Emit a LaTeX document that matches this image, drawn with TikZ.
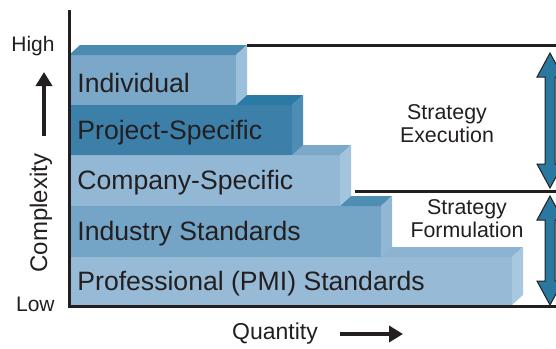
\documentclass[tikz,border=0pt]{standalone}
\usepackage{fontspec}
\setmainfont{Liberation Sans}
\usetikzlibrary{arrows.meta,positioning}
\definecolor{inf}{HTML}{7BA7C8}\definecolor{int}{HTML}{4B8BB2}\definecolor{ins}{HTML}{9CC0DB}
\definecolor{prf}{HTML}{3C80A9}\definecolor{prt}{HTML}{2A7BA3}\definecolor{prs}{HTML}{4D8DB5}
\definecolor{cof}{HTML}{93B8D5}\definecolor{cot}{HTML}{7CA8C9}\definecolor{cos}{HTML}{A2C4DD}
\definecolor{isf}{HTML}{74A4C6}\definecolor{ist}{HTML}{4E8EB4}\definecolor{iss}{HTML}{92B7D4}
\definecolor{pmf}{HTML}{97BAD6}\definecolor{pmt}{HTML}{8CB3D1}\definecolor{pms}{HTML}{A8C8E0}
\definecolor{ac}{HTML}{2878A0}\definecolor{ink}{HTML}{231F20}
\tikzset{lab/.style={anchor=west,inner sep=0pt,text=ink,font=\fontsize{13.3}{15}\selectfont},
 sm/.style={inner sep=0pt,text=ink,font=\fontsize{10.5}{12}\selectfont},
 stxt/.style={sm,align=center,font=\fontsize{10.7}{11.5}\selectfont},
 ax/.style={line width=1.5pt,draw=ink},
 thk/.style={line width=2.4pt,draw=ink,-{Triangle[length=7pt,width=8pt]}},
 darr/.style={fill=ac,draw=ink,line width=.5pt,line join=miter}}
% slab: right x, top y, bottom y, front, top, side
\newcommand{\slab}[6]{\fill[#4] (69,#2) rectangle (#1,#3);
 \fill[#5] (69,#2)--(80,#2-10)--(#1+11,#2-10)--(#1,#2)--cycle;
 \fill[#6] (#1,#2)--(#1+11,#2-10)--(#1+11,#3-10)--(#1,#3)--cycle;}
\newcommand{\dbl}[2]{\filldraw[darr] (550,#1)--(563,#1+24)--(555,#1+24)--(555,#2-24)--(563,#2-24)
 --(550,#2)--(537,#2-24)--(545,#2-24)--(545,#1+24)--(537,#1+24)--cycle;}
\begin{document}
\begin{tikzpicture}[x=.5pt,y=-.5pt]
\useasboundingbox (0,0) rectangle (556,348);
\slab{512}{257}{305}{pmf}{pmt}{pms}
\slab{381}{206}{257}{isf}{ist}{iss}
\slab{340}{155}{206}{cof}{cot}{cos}
\slab{292}{105}{155}{prf}{prt}{prs}
\slab{236}{55}{105}{inf}{int}{ins}
\node[lab] (ind) at (77,83) {Individual};
\node[lab] (prj) at (77,133) {Project-Specific};
\node[lab] (com) at (77,183) {Company-Specific};
\node[lab] (isd) at (77,234) {Industry Standards};
\node[lab] (pmi) at (77,284) {Professional (PMI) Standards};
% axes and level lines
\coordinate (o) at (69,306);\coordinate (yt) at (69,10);\coordinate (xe) at (556,306);
\coordinate (l1) at (247,45);\coordinate (r1) at (556,45);
\coordinate (l2) at (355,191);\coordinate (r2) at (556,191);
\draw[ax] (yt)--(o)--(xe);
\draw[ax] (l1)--(r1);\draw[ax] (l2)--(r2);
\dbl{53}{188}\dbl{196}{305}
\node[stxt] (exe) at (447,124) {Strategy\\Execution};
\node[stxt] (frm) at (467,219) {Strategy\\Formulation};
% axis captions
\node[sm,anchor=east] (hi) at (55,46) {High};
\node[sm,anchor=east] (lo) at (55,304) {Low};
\node[sm,rotate=90,font=\fontsize{12}{14}\selectfont] (cx) at (41,213) {Complexity};
\coordinate (ua) at (44,136);\coordinate (ub) at (44,72);
\draw[thk] (ua)--(ub);
\node[sm,font=\fontsize{11.5}{13}\selectfont] (qt) at (275,334) {Quantity};
\coordinate (qa) at (340,334);\coordinate (qb) at (403,334);
\draw[thk] (qa)--(qb);
\end{tikzpicture}
\end{document}
